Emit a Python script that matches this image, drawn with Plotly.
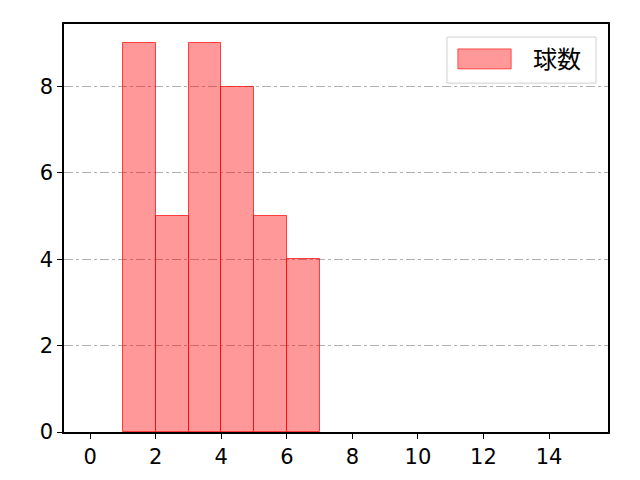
import plotly.graph_objects as go

bin_left = [1, 2, 3, 4, 5, 6]
counts = [9, 5, 9, 8, 5, 4]
series_name = "球数"
x_ticks = [0, 2, 4, 6, 8, 10, 12, 14]
y_ticks = [0, 2, 4, 6, 8]

centers = [b + 0.5 for b in bin_left]

fig = go.Figure()
fig.add_trace(go.Bar(
    x=centers, y=counts, width=1, name=series_name,
    marker=dict(color="rgba(255,0,0,0.4)", line=dict(color="rgba(255,0,0,0.7)", width=1)),
    showlegend=False,
))

font = "Noto Sans CJK JP, DejaVu Sans, sans-serif"
tickfont = dict(family="DejaVu Sans, sans-serif", size=21, color="black")

# custom matplotlib-style legend
fig.add_shape(type="rect", xref="paper", yref="paper", x0=0.704, x1=0.978, y0=0.855, y1=0.968,
              line=dict(color="#d0d0d0", width=1), fillcolor="rgba(255,255,255,0.8)", layer="above")
fig.add_shape(type="rect", xref="paper", yref="paper", x0=0.724, x1=0.822, y0=0.890, y1=0.939,
              line=dict(color="rgba(255,0,0,0.6)", width=1), fillcolor="rgba(255,0,0,0.4)", layer="above")
fig.add_annotation(xref="paper", yref="paper", x=0.858, y=0.917, xanchor="left", yanchor="middle",
                   text=series_name, showarrow=False, font=dict(family=font, size=24, color="black"))

fig.update_layout(
    width=640, height=480,
    margin=dict(l=56, r=40, t=16, b=56),
    plot_bgcolor="white", paper_bgcolor="white",
    font=dict(family=font, size=17, color="black"),
    bargap=0,
    showlegend=False,
    xaxis=dict(range=[-0.8, 15.8], tickvals=x_ticks, showgrid=False, zeroline=False,
               showline=True, linecolor="black", linewidth=1.5, mirror=True,
               ticks="outside", ticklen=5, tickcolor="black", tickfont=tickfont),
    yaxis=dict(range=[0, 9.45], tickvals=y_ticks, showgrid=True, gridcolor="#b0b0b0",
               griddash="dashdot", gridwidth=1, zeroline=False,
               showline=True, linecolor="black", linewidth=1.5, mirror=True,
               ticks="outside", ticklen=5, tickcolor="black", tickfont=tickfont),
)
fig.write_html("out.html")
